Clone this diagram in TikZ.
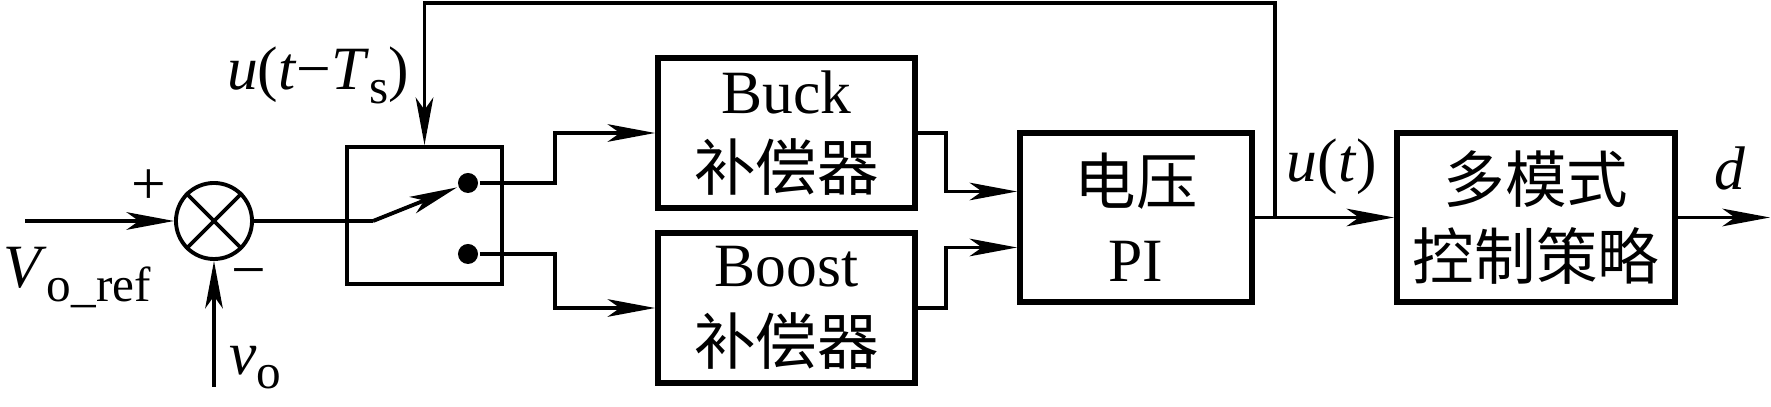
\documentclass[tikz,border=0pt]{standalone}
\usepackage{fontspec}
\setmainfont{LiberationSerif}[Extension=.ttf,UprightFont=*-Regular,ItalicFont=*-Italic,BoldFont=*-Bold]
\newfontfamily\cjk{Noto Sans CJK SC}
\usepackage{tikz}
\usetikzlibrary{arrows.meta,calc}

\begin{document}
\begin{tikzpicture}[x=0.01cm,y=-0.01cm,line width=1.1pt,
  font=\fontsize{17.5}{22}\selectfont,
  >={Stealth[length=13.5pt,width=5pt,inset=3.5pt]},
  block/.style={draw,line width=1.6pt,align=center,inner sep=0pt},
  sumnode/.style={draw,circle,minimum size=0.76cm,inner sep=0pt},
  contact/.style={fill,circle,minimum size=0.2cm,inner sep=0pt}]
\newcommand{\blkh}{1.69cm}
\newcommand{\subtx}[1]{\raisebox{-4pt}{\fontsize{14}{16}\selectfont #1}}
\useasboundingbox (0,0) rectangle (1771,407);

\node[sumnode] (sum) at (214,221) {};
\draw (sum.north west) -- (sum.south east) (sum.north east) -- (sum.south west);
\node[draw,minimum width=1.55cm,minimum height=1.37cm] (sw) at (424.5,215.5) {};
\node[contact] (up) at (468,183) {};
\node[contact] (dn) at (468,254) {};
\node[block,minimum width=2.57cm,minimum height=1.5cm] (buck) at (786.5,133) {Buck\\{\cjk 补偿器}};
\node[block,minimum width=2.57cm,minimum height=1.5cm] (boost) at (786.5,308) {Boost\\{\cjk 补偿器}};
\node[block,minimum width=2.32cm,minimum height=\blkh] (pi) at (1136,217.5) {{\cjk 电压}\\PI};
\node[block,minimum width=2.78cm,minimum height=\blkh] (mm) at (1536,217.5) {{\cjk 多模式}\\{\cjk 控制策略}};

\coordinate (in) at (25,221);
\coordinate (vin) at (214,387);
\coordinate (pivot) at (373,221);
\coordinate (br) at (1275,217.5);
\coordinate (fb) at (1275,3);
\coordinate (out) at (1770,217.5);

\draw[->] (in) -- (sum.west);
\draw[->] (vin) -- (sum.south);
\draw (sum.east) -- (pivot);
\draw[->] (pivot) -- (up);
\draw[->] (up) -- ++(87,0) |- (buck.west);
\draw[->] (dn) -- ++(87,0) |- (boost.west);
\draw[->] (buck.east) -- ++(28,0) |- ($(pi.west)+(0,-26)$);
\draw[->] (boost.east) -- ++(28,0) |- ($(pi.west)+(0,30)$);
\draw[->] (pi.east) -- (mm.west);
\draw[->] (br) -- (fb) -| (sw.north);
\draw[->] (mm.east) -- (out);

\node (plus) at (149,187) {+};
\node (minus) at (249,280) {−};
\node (vref) at (77,278) {\textit{V}\subtx{o\_ref}};
\node (vo) at (255,368) {\textit{v}\subtx{o}};
\node (udel) at (318,75) {\textit{u}(\textit{t}−\textit{T}\subtx{s})};
\node (ut) at (1332,167) {\textit{u}(\textit{t})};
\node (dout) at (1730,168) {\textit{d}};
\end{tikzpicture}
\end{document}
